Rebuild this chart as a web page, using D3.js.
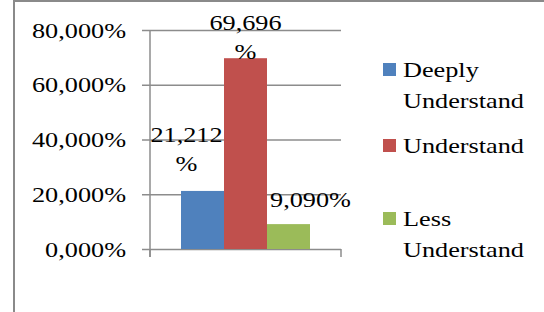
<!DOCTYPE html>
<html>
<head>
<script src="https://d3js.org/d3.v7.min.js"></script>
<style>
  body { margin: 0; background: #fff; }
  text { font-family: "Liberation Serif", "Times New Roman", serif; fill: #000; }
</style>
</head>
<body>
<svg width="544" height="312"></svg>
<script>
// data
const series = ["Deeply Understand", "Understand", "Less Understand"];
const values = [0.21212, 0.69696, 0.09090];
const valueLabels = [["21,212", "%"], ["69,696", "%"], ["9,090%"]];
const legendLines = [["Deeply", "Understand"], ["Understand"], ["Less", "Understand"]];
const yTicks = [0, 0.2, 0.4, 0.6, 0.8];
const colors = ["#4f81bd", "#c0504d", "#9bbb59"];

const svg = d3.select("svg");
const sx = 1.25;   // text in the picture is stretched sideways
const fs = 21;

// outer frame (only top and left visible)
svg.append("path")
  .attr("d", "M14,312 V1 H544")
  .attr("fill", "none")
  .attr("stroke", "#8a8a8a")
  .attr("stroke-width", 2);

const plot = { left: 150, right: 341, top: 30, bottom: 249 };

const y = d3.scaleLinear().domain([0, 0.8]).range([plot.bottom, plot.top]);
const x = d3.scaleBand().domain(series).range([181, 310]).padding(0);
const xOuter = d3.scaleBand().domain(["all"]).range([plot.left, plot.right]);

// gridlines + y axis labels
const yAxis = d3.axisLeft(y)
  .tickValues(yTicks)
  .tickSize(plot.left - plot.right - 8)
  .tickFormat(d => d3.format(".3f")(d * 100).replace(".", ",").replace(/\B(?=(\d{3})+(?!\d))/, "") + "%");

const gy = svg.append("g")
  .attr("transform", `translate(${plot.left},0)`)
  .call(yAxis);
gy.select(".domain").remove();
gy.selectAll(".tick line")
  .attr("x1", -8)
  .attr("x2", plot.right - plot.left)
  .attr("stroke", "#8c8c8c")
  .attr("stroke-width", 1.5);
gy.selectAll(".tick text")
  .attr("x", 0).attr("dy", null)
  .attr("text-anchor", "end")
  .attr("transform", `translate(-24,7) scale(${sx},1)`)
  .style("font-size", fs + "px");

// vertical axis line
svg.append("line")
  .attr("x1", plot.left).attr("x2", plot.left)
  .attr("y1", plot.top).attr("y2", plot.bottom + 8)
  .attr("stroke", "#8c8c8c").attr("stroke-width", 1.5);

// bottom axis: ticks at category boundaries
const xAxis = d3.axisBottom(xOuter).tickSize(0).tickFormat("");
const gx = svg.append("g")
  .attr("transform", `translate(0,${plot.bottom})`)
  .call(xAxis);
gx.select(".domain").remove();
[plot.left, plot.right].forEach(px => {
  gx.append("line")
    .attr("x1", px).attr("x2", px).attr("y1", 0).attr("y2", 8)
    .attr("stroke", "#8c8c8c").attr("stroke-width", 1.5);
});

// bars
svg.append("g").selectAll("rect")
  .data(values)
  .join("rect")
  .attr("x", (d, i) => x(series[i]))
  .attr("y", d => y(d))
  .attr("width", x.bandwidth())
  .attr("height", d => y(0) - y(d))
  .attr("fill", (d, i) => colors[i]);

// value labels
const labelOffset = [{ dx: -16, dy: -49 }, { dx: 0, dy: -28 }, { dx: 22, dy: -17 }];
values.forEach((v, i) => {
  const cx = x(series[i]) + x.bandwidth() / 2 + labelOffset[i].dx;
  const top = y(v) + labelOffset[i].dy;
  valueLabels[i].forEach((line, k) => {
    svg.append("text")
      .attr("text-anchor", "middle")
      .attr("transform", `translate(${cx},${top + k * 29}) scale(${sx},1)`)
      .style("font-size", fs + "px")
      .text(line);
  });
});

// legend
const legendY = [63, 139, 212];
series.forEach((s, i) => {
  const g = svg.append("g").attr("transform", `translate(383,${legendY[i]})`);
  g.append("rect")
    .attr("width", 13).attr("height", 13)
    .attr("fill", colors[i]);
  legendLines[i].forEach((line, k) => {
    g.append("text")
      .attr("transform", `translate(20,${14 + k * 31}) scale(${sx},1)`)
      .style("font-size", fs + "px")
      .text(line);
  });
});
</script>
</body>
</html>
